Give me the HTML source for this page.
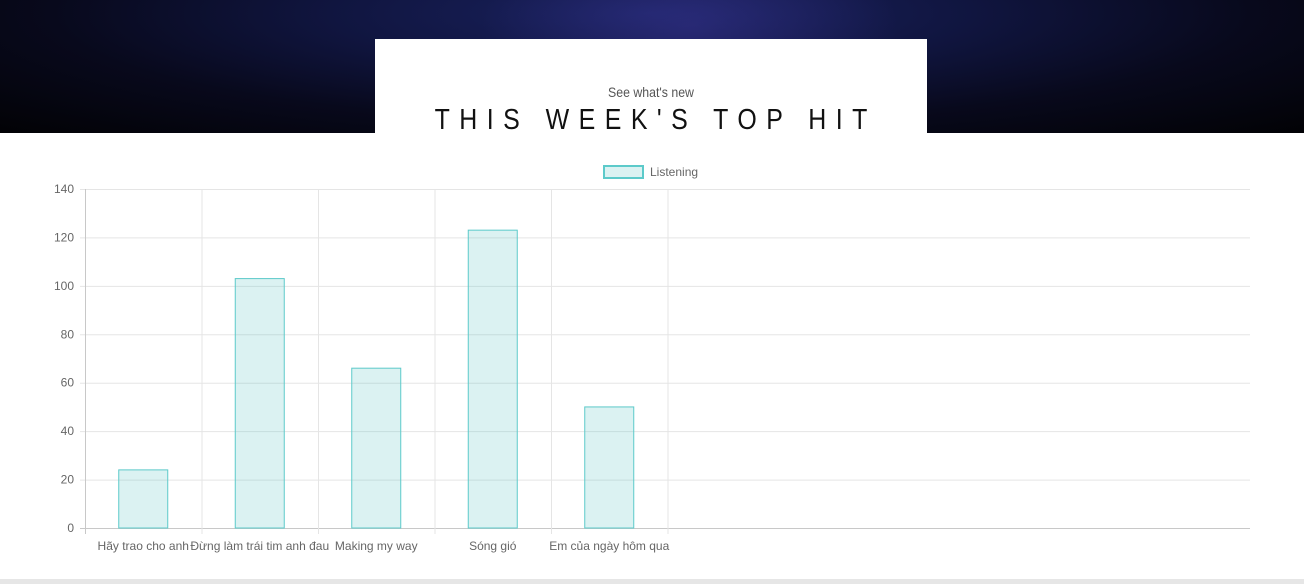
<!DOCTYPE html>
<html><head><meta charset="utf-8"><style>
body{margin:0;width:1304px;height:584px;overflow:hidden;background:#fff;font-family:"Liberation Sans","Noto Sans CJK SC",sans-serif;position:relative}
#hero{position:absolute;left:0;top:0;width:1304px;height:133px;background:radial-gradient(ellipse at 50% 10%,#1a2260 0%,#10153f 35%,#08091c 65%,#020205 100%)}
#hero:before{content:"";position:absolute;left:480px;top:0;width:420px;height:133px;background:radial-gradient(ellipse at 50% 20%,rgba(70,60,170,.35),transparent 70%)}
#box{position:absolute;left:375px;top:39px;width:552px;height:94px;background:#fff;text-align:center}
#sub{position:absolute;top:45px;width:100%;font-size:14px;color:#555;transform:scaleX(.88)}
#title{position:absolute;top:65px;width:100%;font-size:29px;letter-spacing:11px;color:#111;transform:scaleX(.86);white-space:nowrap;text-indent:11px}
#foot{position:absolute;left:0;top:579px;width:1304px;height:5px;background:#e6e6e6}
</style></head><body>
<div id="hero"></div>
<div id="box">
<div id="sub">See what's new</div>
<div id="title">THIS WEEK'S TOP HIT</div>
</div>
<svg id="chart" width="1304" height="584" style="position:absolute;left:0;top:0"></svg>
<div id="foot"></div>
<script>
const categories=["Hãy trao cho anh","Đừng làm trái tim anh đau","Making my way","Sóng gió","Em của ngày hôm qua"];
const listening=[24,103,66,123,50];
const yTicks=[0,20,40,60,80,100,120,140];
const svg=document.getElementById('chart');const NS="http://www.w3.org/2000/svg";
const L=85,R=1250,T=189,B=528,yMax=140,catW=116.5;
const y=v=>B-(v/yMax)*(B-T);const x=i=>L+catW*i;
function mk(t,a,p){const e=document.createElementNS(NS,t);for(const k in a)e.setAttribute(k,a[k]);(p||svg).appendChild(e);return e;}
yTicks.forEach(v=>{
const g=mk('line',{x1:L-5,x2:R,y1:y(v)+.5,y2:y(v)+.5,stroke:v===0?'#c8c8c8':'#e5e5e5'});


const t=mk('text',{x:L-11,y:y(v)+4,'text-anchor':'end','font-size':12,fill:'#666'});t.textContent=v;


});
for(let i=0;i<=categories.length;i++){
const g=mk('line',{x1:x(i)+.5,x2:x(i)+.5,y1:T,y2:B+6,stroke:i===0?'#c8c8c8':'#e5e5e5'});


}
categories.forEach((c,i)=>{
const cx=x(i)+catW/2,bw=49;
const r=mk('rect',{x:cx-bw/2,y:y(listening[i]),width:bw,height:B-y(listening[i]),fill:'rgba(75,192,192,0.2)',stroke:'#5ccaca','stroke-width':1});


const t=mk('text',{x:cx,y:550,'text-anchor':'middle','font-size':12,fill:'#666'});t.textContent=c;


});
const lb=mk('rect',{x:604,y:166,width:39,height:12,fill:'rgba(75,192,192,0.2)',stroke:'#5ccaca','stroke-width':2});


const lt=mk('text',{x:650,y:176,'font-size':12,fill:'#666'});lt.textContent='Listening';


</script>
</body></html>
